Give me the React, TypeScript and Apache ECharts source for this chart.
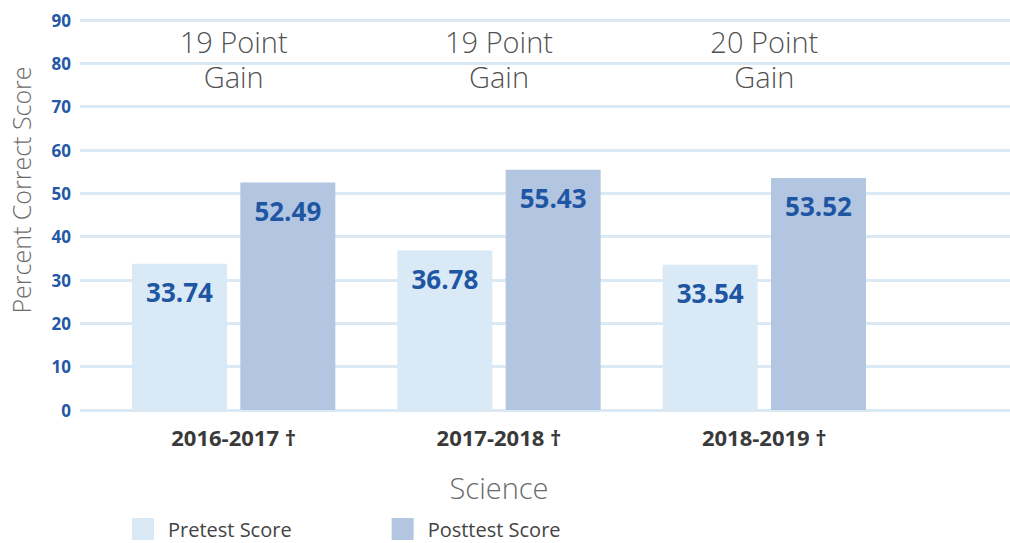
import React, { useEffect, useRef } from "react";
import * as echarts from "echarts";

const categories = ["2016-2017 †", "2017-2018 †", "2018-2019 †"];
const pretest = [33.74, 36.78, 33.54];
const posttest = [52.49, 55.43, 53.52];
const gains = [19, 19, 20];
const seriesNames = ["Pretest Score", "Posttest Score"];
const yTicks = { min: 0, max: 90, interval: 10 };

const FONT = "'Open Sans', 'Noto Sans', sans-serif";

export default function App() {
  const ref = useRef<HTMLDivElement>(null);
  useEffect(() => {
    if (!ref.current) return;
    const chart = echarts.init(ref.current, undefined, { renderer: "svg" });
    const valueLabel = {
      show: true,
      position: "insideTop",
      distance: 15,
      fontFamily: FONT,
      fontSize: 26,
      fontWeight: "bold",
      color: "#1f56a3",
      formatter: (p: any) => p.value.toFixed(2),
    };
    chart.setOption({
      animation: false,
      textStyle: { fontFamily: FONT },
      grid: [
        { left: 101, width: 796, top: 20, bottom: 133 },
        { left: 72, right: 0, top: 20, bottom: 133 },
      ],
      xAxis: [
        {
          type: "category",
          gridIndex: 0,
          data: categories,
          axisLine: { show: false },
          axisTick: { show: false },
          axisLabel: {
            margin: 16,
            fontSize: 22,
            fontWeight: "bold",
            color: "#3a3a3a",
            fontFamily: FONT,
          },
          name: "Science",
          nameLocation: "middle",
          nameGap: 63,
          nameTextStyle: { fontSize: 29, color: "#6b6b6b", fontFamily: FONT, fontWeight: 300 },
        },
        {
          type: "value",
          gridIndex: 1,
          min: 0,
          max: 1,
          show: false,
        },
      ],
      yAxis: [
        {
          type: "value",
          gridIndex: 0,
          min: yTicks.min,
          max: yTicks.max,
          interval: yTicks.interval,
          show: false,
        },
        {
          type: "value",
          gridIndex: 1,
          min: yTicks.min,
          max: yTicks.max,
          interval: yTicks.interval,
          axisLine: { show: false },
          axisTick: { show: false },
          splitLine: { lineStyle: { color: "#dbe9f5", width: 3 } },
          axisLabel: {
            margin: 9,
            fontSize: 17,
            fontWeight: "bold",
            color: "#2458a6",
            fontFamily: FONT,
          },
          name: "Percent Correct Score",
          nameLocation: "middle",
          nameGap: 47,
          nameTextStyle: {
            fontSize: 25,
            color: "#6b6b6b",
            fontFamily: FONT,
            fontWeight: 300,
            padding: [0, 0, 0, 50],
          },
        },
      ],
      legend: {
        left: 132,
        bottom: 3,
        padding: 0,
        itemWidth: 22,
        itemHeight: 22,
        itemGap: 100,
        icon: "rect",
        data: seriesNames,
        textStyle: {
          fontSize: 20,
          lineHeight: 22,
          color: "#444",
          fontFamily: FONT,
          padding: [0, 0, 0, 9],
        },
      },
      series: [
        {
          name: seriesNames[0],
          type: "bar",
          xAxisIndex: 0,
          yAxisIndex: 0,
          data: pretest,
          barWidth: 95,
          barGap: "14%",
          itemStyle: { color: "#d9e9f6" },
          label: valueLabel,
          z: 3,
        },
        {
          name: seriesNames[1],
          type: "bar",
          xAxisIndex: 0,
          yAxisIndex: 0,
          data: posttest,
          barWidth: 95,
          barGap: "14%",
          itemStyle: { color: "#b2c6e2" },
          label: valueLabel,
          z: 3,
        },
        {
          name: "gain",
          type: "scatter",
          xAxisIndex: 0,
          yAxisIndex: 0,
          symbolSize: 0,
          data: gains.map((g, i) => [categories[i], 81]),
          label: {
            show: true,
            position: "inside",
            fontSize: 29,
            lineHeight: 35.5,
            fontWeight: 300,
            color: "#222",
            fontFamily: FONT,
            formatter: (p: any) => `${gains[p.dataIndex]} Point\nGain`,
          },
          silent: true,
          z: 4,
        },
      ],
    });
    return () => chart.dispose();
  }, []);
  return <div ref={ref} style={{ width: 1010, height: 543, position: "absolute", left: 0, top: 0 }} />;
}
